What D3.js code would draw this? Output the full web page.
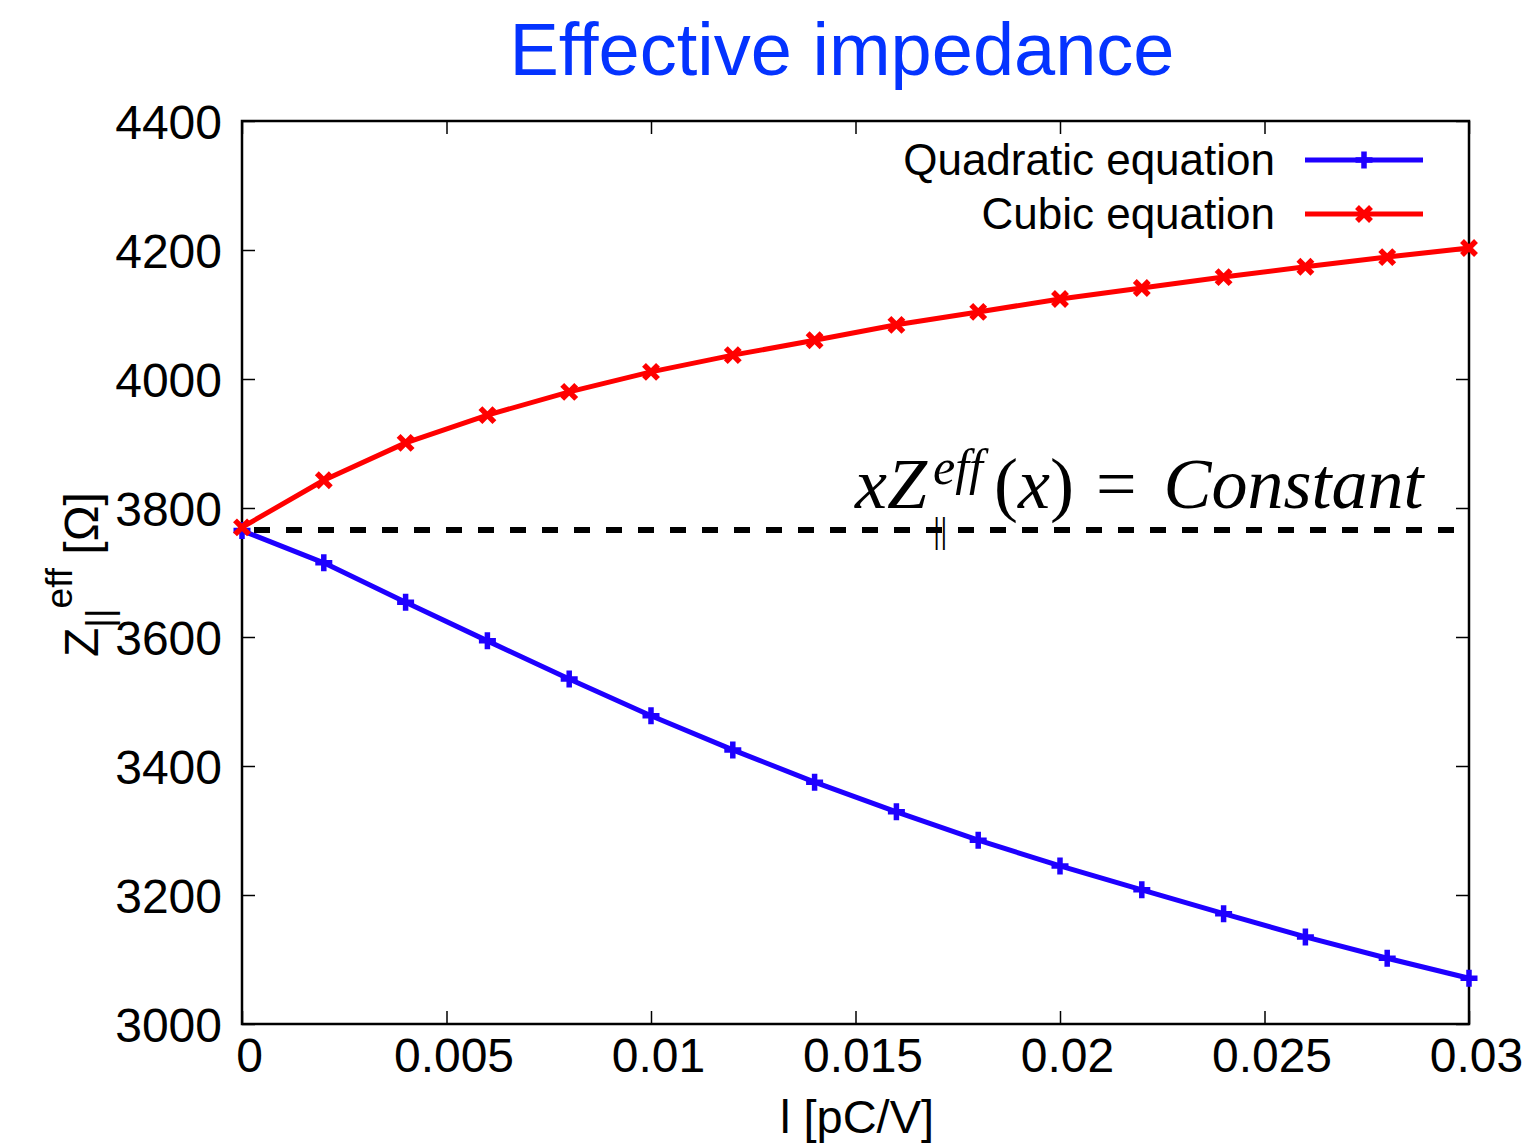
<!DOCTYPE html>
<html>
<head>
<meta charset="utf-8">
<script src="https://cdn.jsdelivr.net/npm/d3@7"></script>
<style>
  html, body { margin: 0; padding: 0; background: #ffffff; }
  svg { display: block; }
  .sans { font-family: "Liberation Sans", Arial, Helvetica, sans-serif; }
  .serif { font-family: "Liberation Serif", "Times New Roman", Times, serif; }
</style>
</head>
<body>
<svg id="chart" width="1526" height="1147"></svg>
<script>
// Beam current (pC/V) at which the effective impedance was evaluated
const currents = [0, 0.002, 0.004, 0.006, 0.008, 0.010, 0.012, 0.014, 0.016,
                  0.018, 0.020, 0.022, 0.024, 0.026, 0.028, 0.030];
// Effective impedance [Ohm] from the quadratic equation
const quadratic = [3765, 3715, 3654, 3594, 3535, 3478, 3425, 3375, 3329,
                   3285, 3245, 3208, 3171, 3135, 3102, 3071];
// Effective impedance [Ohm] from the cubic equation
const cubic = [3770, 3843, 3901, 3944, 3980, 4011, 4037, 4060, 4084,
               4104, 4124, 4141, 4158, 4174, 4189, 4203];
// Reference level x*Z(x) = constant
const constantLevel = 3766;

const xTickValues = [0, 0.005, 0.01, 0.015, 0.02, 0.025, 0.03];
const xTickLabels = ["0", "0.005", "0.01", "0.015", "0.02", "0.025", "0.03"];
const yTickValues = [3000, 3200, 3400, 3600, 3800, 4000, 4200, 4400];
const seriesNames = ["Quadratic equation", "Cubic equation"];

const svg = d3.select("#chart");
const frame = { left: 242, right: 1469, top: 121, bottom: 1024 };

const x = d3.scaleLinear().domain([0, 0.03]).range([frame.left, frame.right]);
const y = d3.scaleLinear().domain([3000, 4400]).range([frame.bottom, frame.top]);

const BLUE = "#1e00ff", RED = "#ff0000";
const tickLen = 13;

// Title
svg.append("text").attr("class", "sans")
  .attr("x", 842).attr("y", 75)
  .attr("text-anchor", "middle")
  .attr("font-size", 74)
  .attr("fill", "#0433ff")
  .text("Effective impedance");

// Axes with inward ticks on all four sides
const xAxis = svg.append("g").attr("transform", `translate(0,${frame.bottom})`)
  .call(d3.axisBottom(x).tickValues(xTickValues)
    .tickFormat((d, i) => xTickLabels[i]).tickSize(-tickLen).tickSizeOuter(0).tickPadding(14));
const yAxis = svg.append("g").attr("transform", `translate(${frame.left},0)`)
  .call(d3.axisLeft(y).tickValues(yTickValues).tickFormat(d3.format("d"))
    .tickSize(-tickLen).tickSizeOuter(0).tickPadding(20));
const xTop = svg.append("g").attr("transform", `translate(0,${frame.top})`)
  .call(d3.axisTop(x).tickValues(xTickValues).tickFormat("").tickSize(-tickLen).tickSizeOuter(0));
const yRight = svg.append("g").attr("transform", `translate(${frame.right},0)`)
  .call(d3.axisRight(y).tickValues(yTickValues).tickFormat("").tickSize(-tickLen).tickSizeOuter(0));

[xAxis, yAxis, xTop, yRight].forEach(g => {
  g.select(".domain").remove();
  g.selectAll(".tick line").attr("stroke", "#000").attr("stroke-width", 1.5);
  g.selectAll(".tick text")
    .style("font-family", "'Liberation Sans', Arial, sans-serif")
    .attr("font-size", 48).attr("fill", "#000");
});
xAxis.selectAll(".tick text").attr("dx", 7);
yAxis.selectAll(".tick text").attr("dy", "0.36em");

// Plot frame
svg.append("rect")
  .attr("x", frame.left).attr("y", frame.top)
  .attr("width", frame.right - frame.left).attr("height", frame.bottom - frame.top)
  .attr("fill", "none").attr("stroke", "#000").attr("stroke-width", 2.5);

// Axis titles
svg.append("text").attr("class", "sans")
  .attr("x", 857).attr("y", 1133)
  .attr("text-anchor", "middle").attr("font-size", 47)
  .text("l [pC/V]");

const yLabel = svg.append("text").attr("class", "sans")
  .attr("transform", "translate(98,657) rotate(-90)")
  .attr("font-size", 48);
yLabel.append("tspan").text("Z");
yLabel.append("tspan").attr("font-size", 37).attr("dy", 14).text("||");
yLabel.append("tspan").attr("font-size", 37).attr("dy", -40).text("eff");
yLabel.append("tspan").attr("dy", 26).text(" [Ω]");

// Constant reference line
svg.append("line")
  .attr("x1", x(0)).attr("x2", x(0.03))
  .attr("y1", y(constantLevel)).attr("y2", y(constantLevel))
  .attr("stroke", "#000").attr("stroke-width", 6)
  .attr("stroke-dasharray", "16 16").attr("stroke-dashoffset", 20);

// Annotation formula
const formula = svg.append("text").attr("class", "serif")
  .attr("x", 855).attr("y", 508)
  .attr("font-size", 72);
formula.append("tspan").attr("font-style", "italic").text("xZ");
formula.append("tspan").attr("font-style", "italic").attr("font-size", 50).attr("dy", -24).attr("dx", 6).text("eff");
formula.append("tspan").attr("dy", 24).attr("dx", 11).text("(");
formula.append("tspan").attr("font-style", "italic").text("x");
formula.append("tspan").text(")");
formula.append("tspan").attr("dx", 22).text("=");
formula.append("tspan").attr("dx", 27).attr("font-style", "italic").text("Constant");
svg.append("text").attr("class", "serif")
  .attr("x", 933).attr("y", 542)
  .attr("font-size", 36)
  .text("||");

// Series
const line = d3.line().x(d => x(d[0])).y(d => y(d[1]));
const plusPath = s => `M${-s},0H${s}M0,${-s}V${s}`;
const crossPath = s => `M${-s},${-s}L${s},${s}M${-s},${s}L${s},${-s}`;

const series = [
  { name: seriesNames[0], values: quadratic, color: BLUE, marker: plusPath(8.5) },
  { name: seriesNames[1], values: cubic, color: RED, marker: crossPath(7) }
];

series.forEach(s => {
  const pts = currents.map((c, i) => [c, s.values[i]]);
  svg.append("path").datum(pts)
    .attr("d", line).attr("fill", "none")
    .attr("stroke", s.color).attr("stroke-width", 5)
    .attr("stroke-linejoin", "round");
  svg.append("g").selectAll("path").data(pts).join("path")
    .attr("transform", d => `translate(${x(d[0])},${y(d[1])})`)
    .attr("d", s.marker).attr("fill", "none")
    .attr("stroke", s.color).attr("stroke-width", 5.5);
});

// Legend
series.forEach((s, i) => {
  const ly = 160 + i * 54;
  svg.append("text").attr("class", "sans")
    .attr("x", 1275).attr("y", ly + 15)
    .attr("text-anchor", "end").attr("font-size", 44)
    .text(s.name);
  svg.append("line")
    .attr("x1", 1305).attr("x2", 1423).attr("y1", ly).attr("y2", ly)
    .attr("stroke", s.color).attr("stroke-width", 5);
  svg.append("path")
    .attr("transform", `translate(1364,${ly})`)
    .attr("d", s.marker).attr("fill", "none")
    .attr("stroke", s.color).attr("stroke-width", 5.5);
});
</script>
</body>
</html>
